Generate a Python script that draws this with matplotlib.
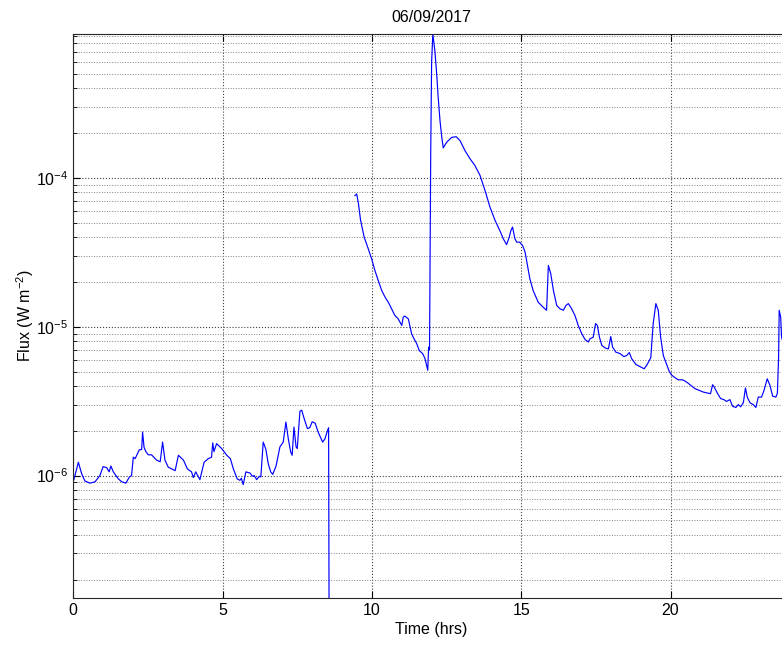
import numpy as np
import matplotlib.pyplot as plt
from matplotlib.ticker import LogLocator, FixedLocator, FuncFormatter, NullFormatter

plt.rcParams['font.family'] = ['Liberation Sans', 'DejaVu Sans']
plt.rcParams['mathtext.fontset'] = 'custom'
plt.rcParams['mathtext.rm'] = 'Liberation Sans'
plt.rcParams['mathtext.it'] = 'Liberation Sans:italic'

title = "06/09/2017"

# first stretch of the day (hours, W m^-2), ends with a drop out of the plot
t1 = [0.02, 0.17, 0.28, 0.39, 0.56, 0.73, 0.89, 1.0, 1.12, 1.2, 1.26, 1.34, 1.51, 1.62,
      1.76, 1.88, 1.95, 2.01, 2.07, 2.21, 2.29, 2.32, 2.37, 2.43, 2.51, 2.62, 2.79, 2.91,
      2.99, 3.07, 3.18, 3.41, 3.52, 3.69, 3.82, 3.96, 4.02, 4.1, 4.24, 4.38, 4.52, 4.63,
      4.67, 4.71, 4.8, 4.97, 5.14, 5.26, 5.36, 5.49, 5.58, 5.63, 5.69, 5.78, 5.92, 6.0,
      6.06, 6.14, 6.23, 6.28, 6.36, 6.45, 6.53, 6.61, 6.68, 6.79, 6.92, 7.03, 7.12, 7.2,
      7.28, 7.33, 7.39, 7.46, 7.5, 7.59, 7.65, 7.73, 7.84, 7.92, 8.0, 8.1, 8.2, 8.35,
      8.43, 8.51, 8.55, 8.57]
f1 = [0.94e-6, 1.23e-6, 1.03e-6, 0.92e-6, 0.89e-6, 0.91e-6, 1.0e-6, 1.15e-6, 1.13e-6,
      1.06e-6, 1.16e-6, 1.06e-6, 0.95e-6, 0.91e-6, 0.89e-6, 0.98e-6, 1.0e-6, 1.33e-6,
      1.3e-6, 1.49e-6, 1.5e-6, 1.96e-6, 1.55e-6, 1.45e-6, 1.38e-6, 1.38e-6, 1.27e-6,
      1.24e-6, 1.68e-6, 1.27e-6, 1.14e-6, 1.08e-6, 1.37e-6, 1.27e-6, 1.11e-6, 1.06e-6,
      0.97e-6, 1.06e-6, 0.94e-6, 1.23e-6, 1.3e-6, 1.33e-6, 1.66e-6, 1.45e-6, 1.64e-6,
      1.52e-6, 1.37e-6, 1.3e-6, 1.11e-6, 0.95e-6, 0.93e-6, 0.96e-6, 0.87e-6, 1.06e-6,
      1.04e-6, 0.99e-6, 1.0e-6, 0.94e-6, 0.99e-6, 0.98e-6, 1.68e-6, 1.5e-6, 1.2e-6,
      1.06e-6, 1.02e-6, 1.16e-6, 1.56e-6, 1.68e-6, 2.29e-6, 1.77e-6, 1.44e-6, 1.37e-6,
      2.12e-6, 1.56e-6, 1.52e-6, 2.71e-6, 2.75e-6, 2.42e-6, 2.07e-6, 2.1e-6, 2.3e-6,
      2.25e-6, 1.96e-6, 1.68e-6, 1.77e-6, 2.0e-6, 2.1e-6, 5e-8]

# second stretch: X9 flare and decay
t2 = [9.43, 9.49, 9.55, 9.62, 9.74, 9.88, 9.99, 10.1, 10.21, 10.33, 10.44, 10.55, 10.66,
      10.77, 10.88, 11.0, 11.05, 11.1, 11.22, 11.33, 11.41, 11.5, 11.59, 11.7, 11.78,
      11.87, 11.9, 11.93, 11.97, 12.0, 12.04, 12.11, 12.17, 12.22, 12.28, 12.34, 12.39,
      12.5, 12.67, 12.82, 12.95, 13.12, 13.29, 13.45, 13.62, 13.79, 13.95, 14.12, 14.29,
      14.4, 14.51, 14.6, 14.65, 14.71, 14.79, 14.85, 14.95, 15.05, 15.13, 15.18, 15.29,
      15.4, 15.57, 15.74, 15.85, 15.91, 15.99, 16.08, 16.19, 16.3, 16.41, 16.5, 16.58,
      16.69, 16.8, 16.91, 17.03, 17.14, 17.25, 17.3, 17.41, 17.49, 17.55, 17.62, 17.7,
      17.81, 17.92, 18.0, 18.06, 18.17, 18.31, 18.44, 18.53, 18.62, 18.7, 18.84, 18.98,
      19.12, 19.22, 19.34, 19.42, 19.51, 19.59, 19.67, 19.76, 19.87, 19.96, 20.04, 20.15,
      20.26, 20.41, 20.54, 20.68, 20.82, 20.96, 21.1, 21.27, 21.34, 21.41, 21.46, 21.57,
      21.68, 21.79, 21.88, 21.99, 22.08, 22.19, 22.27, 22.35, 22.44, 22.51, 22.57, 22.66,
      22.77, 22.86, 22.94, 23.05, 23.13, 23.24, 23.33, 23.42, 23.53, 23.58, 23.62, 23.64,
      23.69, 23.72, 23.8, 23.98]
f2 = [7.6e-5, 7.8e-5, 6.7e-5, 5.2e-5, 4.0e-5, 3.33e-5, 2.86e-5, 2.39e-5, 2.05e-5, 1.75e-5,
      1.58e-5, 1.46e-5, 1.32e-5, 1.19e-5, 1.13e-5, 1.02e-5, 1.16e-5, 1.18e-5, 1.13e-5,
      8.98e-6, 8.3e-6, 7.7e-6, 6.9e-6, 6.6e-6, 6.1e-6, 5.1e-6, 7.3e-6, 7.0e-6, 1.5e-4,
      6.0e-4, 9.25e-4, 7.1e-4, 4.99e-4, 3.47e-4, 2.43e-4, 1.87e-4, 1.59e-4, 1.73e-4,
      1.87e-4, 1.89e-4, 1.78e-4, 1.52e-4, 1.34e-4, 1.21e-4, 1.04e-4, 8.2e-5, 6.4e-5,
      5.2e-5, 4.4e-5, 3.9e-5, 3.56e-5, 4.0e-5, 4.4e-5, 4.67e-5, 3.9e-5, 3.7e-5, 3.7e-5,
      3.5e-5, 3.17e-5, 2.79e-5, 2.1e-5, 1.75e-5, 1.46e-5, 1.35e-5, 1.29e-5, 2.58e-5,
      2.27e-5, 1.75e-5, 1.39e-5, 1.32e-5, 1.29e-5, 1.39e-5, 1.43e-5, 1.32e-5, 1.19e-5,
      1.02e-5, 8.97e-6, 8.2e-6, 7.9e-6, 8.3e-6, 8.5e-6, 1.05e-5, 1.02e-5, 8.5e-6, 7.5e-6,
      7.2e-6, 7.1e-6, 8.6e-6, 7.3e-6, 6.75e-6, 6.6e-6, 6.3e-6, 6.4e-6, 6.7e-6, 6.1e-6,
      5.58e-6, 5.4e-6, 5.22e-6, 5.58e-6, 6.2e-6, 1.05e-5, 1.43e-5, 1.29e-5, 8.5e-6,
      6.4e-6, 5.6e-6, 5.0e-6, 4.73e-6, 4.55e-6, 4.4e-6, 4.4e-6, 4.25e-6, 4.04e-6, 3.84e-6,
      3.74e-6, 3.64e-6, 3.58e-6, 3.55e-6, 4.08e-6, 3.95e-6, 3.58e-6, 3.29e-6, 3.24e-6,
      3.15e-6, 3.24e-6, 2.92e-6, 2.87e-6, 3.0e-6, 2.9e-6, 3.09e-6, 3.88e-6, 3.37e-6,
      3.09e-6, 3.0e-6, 2.87e-6, 3.37e-6, 3.37e-6, 3.73e-6, 4.47e-6, 4.04e-6, 3.42e-6,
      3.37e-6, 3.58e-6, 6.25e-6, 1.29e-5, 1.16e-5, 8.5e-6, 7.5e-6, 7.0e-6]

time = np.array(t1 + [np.nan] + t2)
flux = np.array(f1 + [np.nan] + f2)

fig = plt.figure(figsize=(7.82, 6.45), dpi=100)
# axes run slightly past the right edge of the picture, like the reference crop
ax = fig.add_axes([73.3 / 782, 46.7 / 645, (24 * 29.86) / 782, 564.3 / 645])

ax.plot(time, flux, color=(0, 0, 1), linewidth=0.85)

ax.set_yscale('log')
ax.set_xlim(0, 24)
ax.set_ylim(1.5e-7, 9.25e-4)

ax.xaxis.set_major_locator(FixedLocator([0, 5, 10, 15, 20]))
ax.yaxis.set_major_locator(FixedLocator([1e-6, 1e-5, 1e-4]))
ax.yaxis.set_minor_locator(LogLocator(base=10, subs=np.arange(2, 10), numticks=20))
ax.yaxis.set_minor_formatter(NullFormatter())
ax.yaxis.set_major_formatter(FuncFormatter(
    lambda v, p: r'$\mathregular{10^{%d}}$' % int(round(np.log10(v)))))

ax.tick_params(which='both', direction='in', top=True, right=True, labelsize=11.5,
               colors='black')
ax.tick_params(which='major', length=5, width=0.8)
ax.tick_params(which='minor', length=3, width=0.6)

ax.grid(True, which='major', linestyle=':', color='0.25', linewidth=0.8)
ax.grid(True, which='minor', axis='y', linestyle=':', color='0.5', linewidth=0.7)

for s in ax.spines.values():
    s.set_color('0.15')
    s.set_linewidth(0.8)

ax.set_title(title, fontsize=11.5, pad=9)
ax.set_xlabel("Time (hrs)", fontsize=11.5, labelpad=3)
ax.set_ylabel(r"Flux (W m$^{-2}$)", fontsize=11.5, labelpad=0)

plt.savefig("out.png", dpi=100)
